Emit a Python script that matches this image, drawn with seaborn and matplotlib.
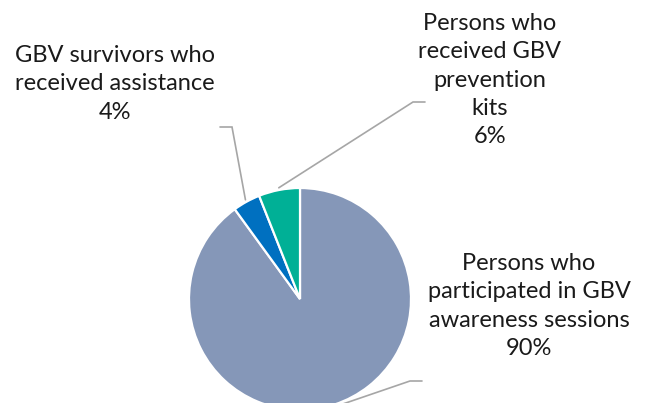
import numpy as np
import matplotlib
matplotlib.use("Agg")
import matplotlib.pyplot as plt
import seaborn as sns

labels = ["Persons who\nparticipated in GBV\nawareness sessions",
          "GBV survivors who\nreceived assistance",
          "Persons who\nreceived GBV\nprevention\nkits"]
values = [90, 4, 6]
colors = ["#8597B8", "#0070C0", "#00B096"]

sns.set_theme(style="white")
plt.rcParams['font.family'] = ['Lato', 'DejaVu Sans']

W, H = 648, 403
fig = plt.figure(figsize=(W / 100, H / 100), dpi=100)
ax = fig.add_axes([0, 0, 1, 1])
cx, cy, R = 300, 104, 111
wedges, _ = ax.pie(values, colors=colors, startangle=90, counterclock=False,
                   center=(cx, cy), radius=R, frame=True,
                   wedgeprops=dict(edgecolor="white", linewidth=1.6))
ax.set_xlim(0, W)
ax.set_ylim(0, H)
ax.set_aspect("equal")
ax.axis("off")

# label layout in pixels (y from bottom)
layout = [
    dict(elbow=(410, H - 381), end=(422, H - 381), text=(529, H - 253)),
    dict(elbow=(232, H - 127), end=(220, H - 127), text=(115, H - 45)),
    dict(elbow=(413, H - 102), end=(425, H - 102), text=(490, H - 13)),
]
total = sum(values)
for w, lab, v, lay in zip(wedges, labels, values, layout):
    mid = np.deg2rad((w.theta1 + w.theta2) / 2)
    sx, sy = cx + R * 1.02 * np.cos(mid), cy + R * 1.02 * np.sin(mid)
    ex, ey = lay["elbow"]
    fx, fy = lay["end"]
    ax.plot([sx, ex, fx], [sy, ey, fy], color="#A6A6A6", lw=1.2,
            solid_joinstyle="miter", clip_on=False)
    tx, ty = lay["text"]
    ax.text(tx, ty, f"{lab}\n{round(100 * v / total)}%", ha="center", va="top",
            fontsize=17, color="#1a1a1a", linespacing=1.43)

fig.savefig("out.png", dpi=100)
